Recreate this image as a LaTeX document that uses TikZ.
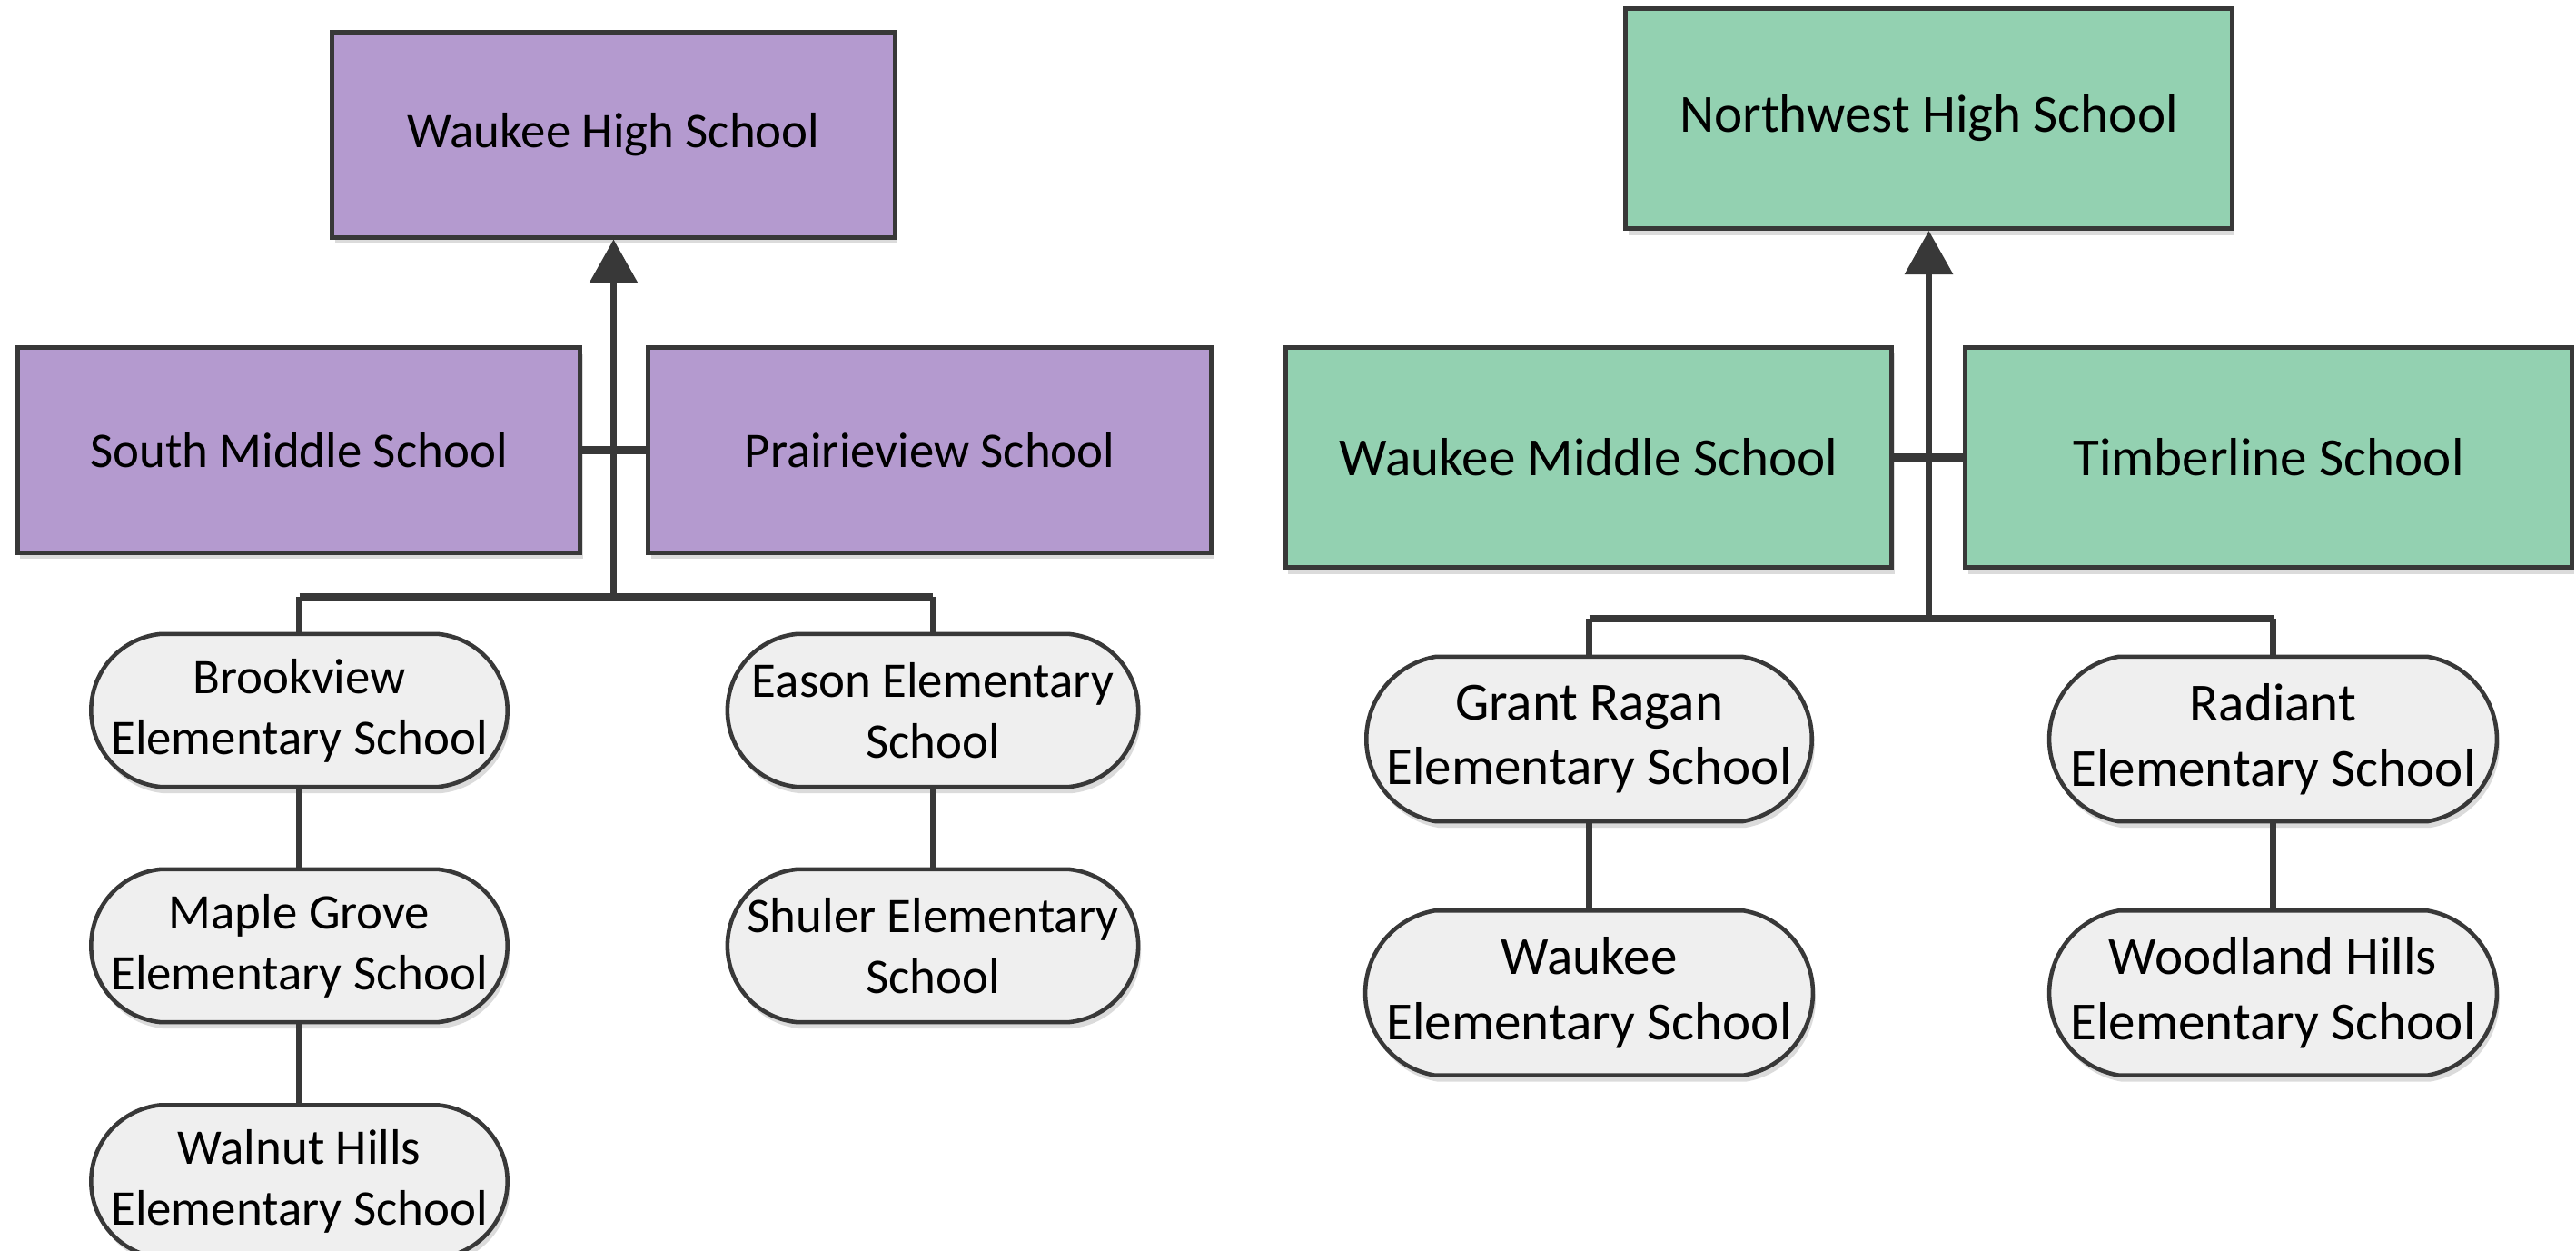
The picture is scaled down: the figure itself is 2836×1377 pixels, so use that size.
\documentclass[tikz,border=0pt]{standalone}
\usepackage{fontspec}
\setmainfont{Carlito}
\usetikzlibrary{arrows.meta,shapes.misc,shadows}
\definecolor{purp}{HTML}{B49ACF}
\definecolor{mint}{HTML}{93D1B1}
\definecolor{pillgray}{HTML}{EFEFEF}
\definecolor{ink}{HTML}{383838}
\begin{document}
\begin{tikzpicture}[x=0.01cm,y=-0.01cm,
  shade/.style={drop shadow={shadow xshift=0.03cm, shadow yshift=-0.07cm, opacity=0.28}},
  boxL/.style={rectangle, draw=ink, line width=1.4pt, fill=purp, minimum width=6.19cm, minimum height=2.25cm, inner sep=0pt, font=\fontsize{15.6}{19}\selectfont, shade},
  boxR/.style={rectangle, draw=ink, line width=1.4pt, fill=mint, minimum width=6.67cm, minimum height=2.42cm, inner sep=0pt, font=\fontsize{16.8}{20.4}\selectfont, shade},
  pillL/.style={rounded rectangle, rounded rectangle arc length=168, draw=ink, line width=1.3pt, fill=pillgray, minimum width=4.52cm, minimum height=1.68cm, inner sep=0pt, align=center, font=\fontsize{15.6}{19}\selectfont, shade},
  pillR/.style={rounded rectangle, rounded rectangle arc length=160, draw=ink, line width=1.3pt, fill=pillgray, minimum width=4.86cm, minimum height=1.81cm, inner sep=0pt, align=center, font=\fontsize{16.8}{20.4}\selectfont, shade},
  link/.style={draw=ink, line width=1.9pt},
  bus/.style={draw=ink, line width=2.4pt},
  tip/.style={-{Triangle[length=0.48cm,width=0.52cm]}}
]
\useasboundingbox[fill=white] (0,0) rectangle (2836,1377);

% ---------- left tree ----------
\node[boxL] (whs) at (675.5,148.5) {Waukee High School};
\node[boxL] (sms) at (329,495.5) {South Middle School};
\node[boxL] (pvs) at (1023.5,495.5) {Prairieview School};
\node[pillL] (brook) at (329.5,782) {Brookview\\Elementary School};
\node[pillL] (maple) at (329.5,1041) {Maple Grove\\Elementary School};
\node[pillL] (walnut) at (329.5,1300.5) {Walnut Hills\\Elementary School};
\node[pillL] (eason) at (1027,782) {Eason Elementary\\School};
\node[pillL] (shuler) at (1027,1041) {Shuler Elementary\\School};

\coordinate (lj) at (675.5,657);
\draw[link,tip] (lj) -- (whs.south);
\draw[bus] (sms.east) -- (pvs.west);
\draw[bus] (brook.north |- lj) -- (eason.north |- lj);
\draw[link] (brook.north |- lj) -- (brook.north);
\draw[link] (eason.north |- lj) -- (eason.north);
\draw[link] (brook.south) -- (maple.north);
\draw[link] (maple.south) -- (walnut.north);
\draw[link] (eason.south) -- (shuler.north);

% ---------- right tree ----------
\node[boxR] (nhs) at (2123.5,130.5) {Northwest High School};
\node[boxR] (wms) at (1749,503.5) {Waukee Middle School};
\node[boxR] (tim) at (2497.5,503.5) {Timberline School};
\node[pillR] (grant) at (1749.5,813.5) {Grant Ragan\\Elementary School};
\node[pillR] (wel) at (1749.5,1093) {Waukee\\Elementary School};
\node[pillR] (rad) at (2502.5,813.5) {Radiant\\Elementary School};
\node[pillR] (wood) at (2502.5,1093) {Woodland Hills\\Elementary School};

\coordinate (rj) at (2123.5,681);
\draw[link,tip] (rj) -- (nhs.south);
\draw[bus] (wms.east) -- (tim.west);
\draw[bus] (grant.north |- rj) -- (rad.north |- rj);
\draw[link] (grant.north |- rj) -- (grant.north);
\draw[link] (rad.north |- rj) -- (rad.north);
\draw[link] (grant.south) -- (wel.north);
\draw[link] (rad.south) -- (wood.north);
\end{tikzpicture}
\end{document}
